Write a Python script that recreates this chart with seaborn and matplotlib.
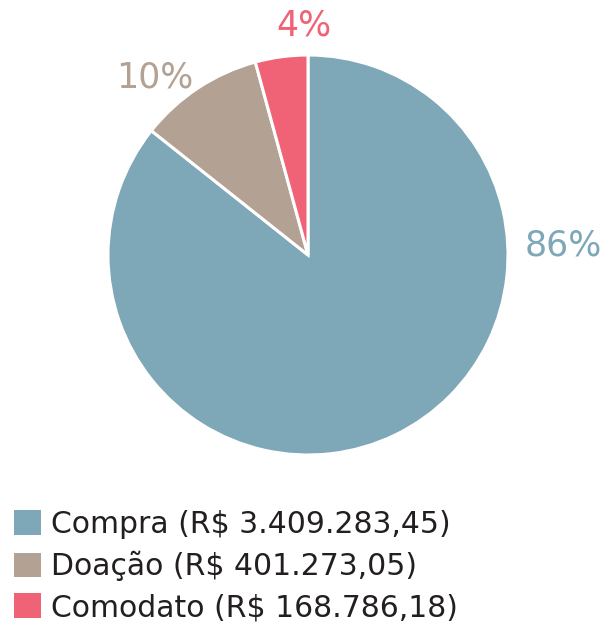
import matplotlib
matplotlib.use("Agg")
import matplotlib.pyplot as plt
import seaborn as sns

categories = ["Compra", "Doação", "Comodato"]
values = [3409283.45, 401273.05, 168786.18]
value_labels = ["R$ 3.409.283,45", "R$ 401.273,05", "R$ 168.786,18"]
colors = ["#7ea7b8", "#b3a293", "#f06275"]

sns.set_theme(style="white")
plt.rcParams["font.family"] = ["DejaVu Sans"]

W, H = 607, 625
fig = plt.figure(figsize=(W / 100, H / 100), dpi=100)
cx, cy, r = 308, 370, 200
ax = fig.add_axes([(cx - r) / W, (cy - r) / H, 2 * r / W, 2 * r / H])

wedges, _ = ax.pie(values, colors=colors, startangle=90, counterclock=False,
                   radius=1.0, wedgeprops=dict(edgecolor="white", linewidth=2.2))
ax.set_xlim(-1, 1)
ax.set_ylim(-1, 1)
ax.set_aspect("equal")
ax.axis("off")

total = sum(values)
pcts = [f"{round(v / total * 100):d}%" for v in values]
label_pos = [(1.275, 0.05), (-0.765, 0.89), (-0.02, 1.15)]
for pct, (x, y), c in zip(pcts, label_pos, colors):
    ax.text(x, y, pct, color=c, fontsize=25, ha="center", va="center",
            clip_on=False)

legend_labels = [f"{c} ({v})" for c, v in zip(categories, value_labels)]
leg = fig.legend(wedges, legend_labels, loc="upper left",
                 bbox_to_anchor=(2 / W, 1 - 498 / H), frameon=False,
                 fontsize=21.5, handlelength=0.9, handleheight=0.9,
                 handletextpad=0.33, labelspacing=0.4, borderaxespad=0)
for t in leg.get_texts():
    t.set_color("#231f20")
for h in leg.legend_handles:
    h.set_edgecolor("none")

fig.savefig("out.png", dpi=100)
